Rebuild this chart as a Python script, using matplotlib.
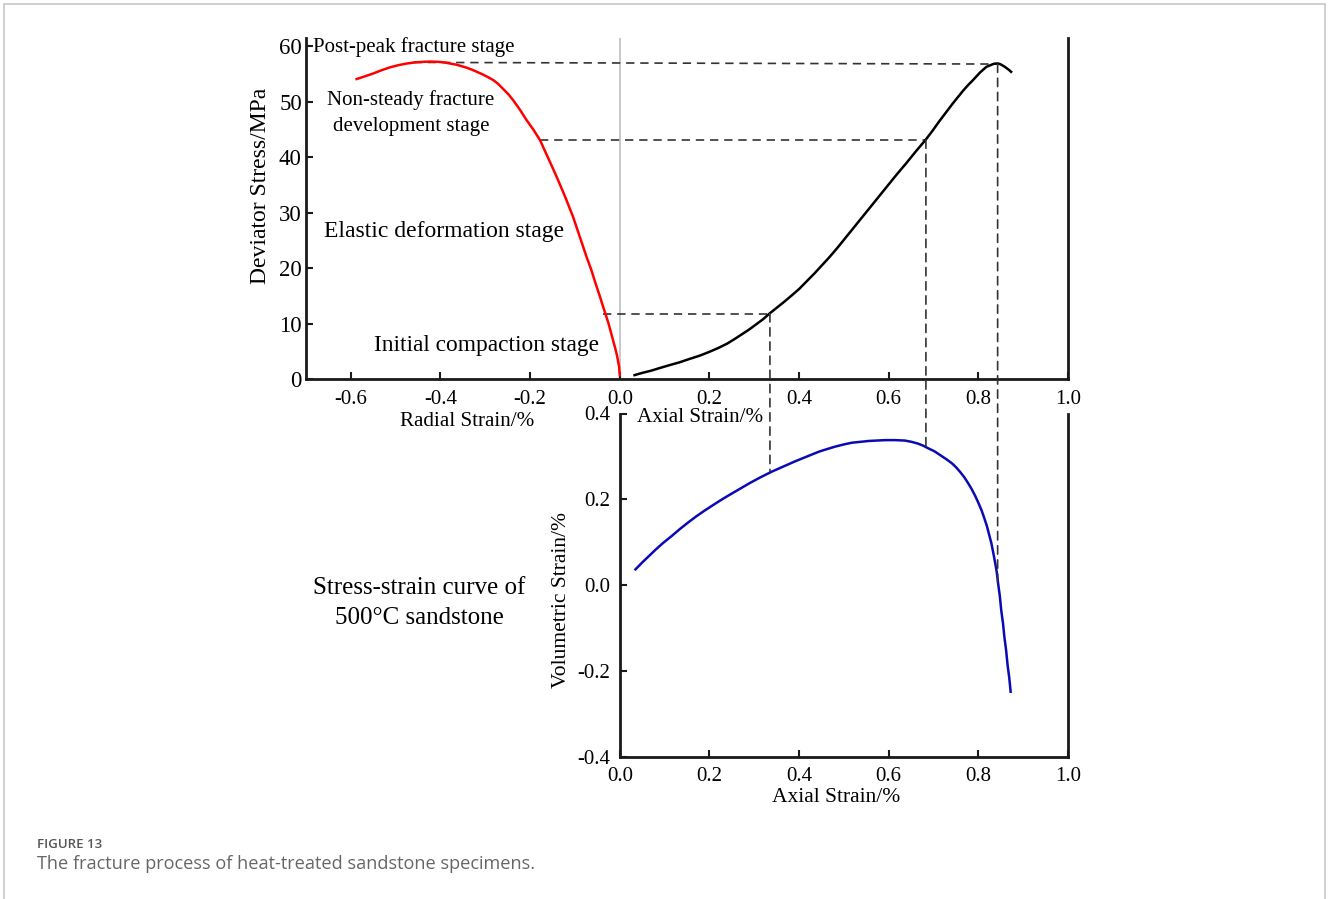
import matplotlib
matplotlib.use("Agg")
import matplotlib.pyplot as plt
from matplotlib.patches import ConnectionPatch, Rectangle

# ---------------- data ----------------
radial_strain = [-0.587, -0.568, -0.550, -0.531, -0.513, -0.494, -0.475, -0.457, -0.439, -0.422,
                 -0.405, -0.392, -0.379, -0.365, -0.352, -0.340, -0.327, -0.316, -0.305, -0.293,
                 -0.282, -0.271, -0.260, -0.249, -0.238, -0.223, -0.208, -0.193, -0.178, -0.160,
                 -0.141, -0.122, -0.104, -0.089, -0.074, -0.064, -0.055, -0.046, -0.037, -0.031,
                 -0.025, -0.020, -0.015, -0.010, -0.006, -0.0035, -0.0015, 0.0]
radial_stress = [54.1, 54.6, 55.1, 55.7, 56.2, 56.6, 56.9, 57.1, 57.2, 57.25,
                 57.2, 57.1, 56.9, 56.7, 56.4, 56.1, 55.7, 55.3, 54.9, 54.4,
                 53.9, 53.2, 52.3, 51.4, 50.3, 48.6, 46.7, 45.0, 43.1, 39.9,
                 36.5, 32.9, 29.2, 25.6, 22.0, 19.8, 17.5, 15.3, 13.0, 11.5,
                 10.0, 8.5, 7.0, 5.5, 4.2, 3.1, 2.2, 0.7]

axial_strain = [0.033, 0.050, 0.070, 0.090, 0.111, 0.133, 0.155, 0.178, 0.200, 0.220, 0.240,
                0.258, 0.275, 0.290, 0.305, 0.320, 0.334, 0.351, 0.368, 0.384, 0.401,
                0.418, 0.435, 0.451, 0.468, 0.485, 0.502, 0.518, 0.535, 0.550, 0.565,
                0.580, 0.595, 0.617, 0.639, 0.660, 0.682, 0.698, 0.713, 0.728, 0.743,
                0.755, 0.766, 0.777, 0.788, 0.796, 0.804, 0.811, 0.818, 0.824, 0.830,
                0.835, 0.840, 0.844, 0.848, 0.852, 0.855, 0.860, 0.864, 0.869, 0.873]
axial_stress = [0.7, 1.1, 1.5, 2.0, 2.5, 3.0, 3.6, 4.2, 4.9, 5.6, 6.4,
                7.3, 8.2, 9.0, 9.9, 10.8, 11.8, 12.9, 14.0, 15.1, 16.3,
                17.7, 19.1, 20.5, 22.0, 23.6, 25.3, 26.9, 28.6, 30.1, 31.6,
                33.1, 34.6, 36.8, 38.9, 41.0, 43.1, 44.8, 46.5, 48.1, 49.7,
                50.9, 52.0, 53.0, 53.9, 54.6, 55.3, 55.8, 56.3, 56.5, 56.7,
                56.85, 56.9, 56.9, 56.8, 56.65, 56.5, 56.25, 56.0, 55.7, 55.4]

vol_axial = [0.035, 0.050, 0.065, 0.080, 0.096, 0.115, 0.133, 0.151, 0.170, 0.188, 0.207,
             0.225, 0.244, 0.267, 0.290, 0.315, 0.340, 0.366, 0.392, 0.418, 0.444,
             0.462, 0.481, 0.500, 0.518, 0.537, 0.555, 0.573, 0.592, 0.614, 0.636,
             0.651, 0.665, 0.677, 0.688, 0.702, 0.715, 0.728, 0.741, 0.751, 0.760,
             0.769, 0.777, 0.785, 0.793, 0.800, 0.807, 0.813, 0.819, 0.824, 0.829,
             0.833, 0.837, 0.841, 0.844, 0.848, 0.851, 0.855, 0.858, 0.862, 0.865,
             0.869, 0.872]
vol_strain = [0.037, 0.053, 0.068, 0.083, 0.098, 0.114, 0.130, 0.145, 0.160, 0.173, 0.186,
              0.198, 0.210, 0.224, 0.238, 0.252, 0.265, 0.277, 0.289, 0.300, 0.311,
              0.317, 0.323, 0.328, 0.332, 0.334, 0.336, 0.337, 0.338, 0.338, 0.337,
              0.334, 0.330, 0.325, 0.319, 0.312, 0.303, 0.294, 0.284, 0.274, 0.263,
              0.251, 0.238, 0.224, 0.208, 0.192, 0.175, 0.157, 0.138, 0.118, 0.098,
              0.077, 0.055, 0.031, 0.005, -0.026, -0.058, -0.089, -0.120, -0.152, -0.184,
              -0.216, -0.248]

# stage boundaries (compaction end, elastic end, peak)
stage_axial = [0.335, 0.683, 0.843]
stage_stress_axial = [11.8, 43.1, 56.8]
stage_radial = [-0.037, -0.178, -0.460]
stage_stress_radial = [11.8, 43.1, 57.1]
stage_vol = [0.265, 0.320, 0.005]

top_xticks = [-0.6, -0.4, -0.2, 0.0, 0.2, 0.4, 0.6, 0.8, 1.0]
top_yticks = [0, 10, 20, 30, 40, 50, 60]
bot_xticks = [0.0, 0.2, 0.4, 0.6, 0.8, 1.0]
bot_yticks = [-0.4, -0.2, 0.0, 0.2, 0.4]

# ---------------- figure ----------------
W, H = 1328, 899
fig = plt.figure(figsize=(W / 100, H / 100), dpi=100)
serif = "Liberation Serif"
plt.rcParams["font.family"] = serif

def px_axes(l, t, r, b):
    return fig.add_axes([l / W, 1 - b / H, (r - l) / W, (b - t) / H])

def ftext(x, y, s, **kw):
    fig.text(x / W, 1 - y / H, s, **kw)

spine_col = "#1a1a1a"
dash_col = "#333333"

# top axes
ax1 = px_axes(306, 38, 1068, 379)
ax1.set_xlim(-0.7, 1.0)
ax1.set_ylim(0, 61.5)
ax1.spines["top"].set_visible(False)
for s in ["left", "bottom", "right"]:
    ax1.spines[s].set_linewidth(2.0)
    ax1.spines[s].set_color(spine_col)
ax1.set_xticks(top_xticks)
ax1.set_xticklabels([f"{v:.1f}" for v in top_xticks])
ax1.set_yticks(top_yticks)
ax1.tick_params(direction="in", length=5, width=1.5, color=spine_col,
                right=False, top=False)
ax1.tick_params(axis="x", labelsize=15, pad=8)
ax1.tick_params(axis="y", labelsize=16.5, pad=3)
ax1.axvline(0, color="#c4c4c4", lw=1.3, zorder=1)

ax1.plot(radial_strain, radial_stress, color="#ff0000", lw=1.8, zorder=3)
ax1.plot(axial_strain, axial_stress, color="black", lw=1.8, zorder=3)

for xr, sr, xa, sa in zip(stage_radial, stage_stress_radial, stage_axial, stage_stress_axial):
    ax1.plot([xr, xa], [sr, sa], color=dash_col, lw=1.2, ls=(0, (5, 3.5)), zorder=2)

# bottom axes
ax2 = px_axes(619.8, 413.5, 1068, 757)
ax2.set_xlim(0, 1.0)
ax2.set_ylim(-0.4, 0.4)
ax2.spines["top"].set_visible(False)
for s in ["left", "bottom", "right"]:
    ax2.spines[s].set_linewidth(2.0)
    ax2.spines[s].set_color(spine_col)
ax2.set_xticks(bot_xticks)
ax2.set_xticklabels([f"{v:.1f}" for v in bot_xticks])
ax2.set_yticks(bot_yticks)
ax2.set_yticklabels([f"{v:.1f}" for v in bot_yticks])
ax2.tick_params(direction="in", length=5, width=1.5, color=spine_col,
                labelsize=15, right=False, top=False)
ax2.tick_params(axis="x", pad=7)
ax2.tick_params(axis="y", pad=7)
ax2.plot(vol_axial, vol_strain, color="#0a0ab4", lw=1.8, zorder=3)

# vertical dashed links between the two axes
for xa, sa, v in zip(stage_axial, stage_stress_axial, stage_vol):
    con = ConnectionPatch(xyA=(xa, sa), coordsA=ax1.transData,
                          xyB=(xa, v), coordsB=ax2.transData,
                          color=dash_col, lw=1.2, ls=(0, (5, 3.5)), zorder=2)
    fig.add_artist(con)

# axis labels and annotations (figure pixel coordinates)
ftext(261, 186, "Deviator Stress/MPa", fontsize=17, rotation=90, ha="center", va="center")
ftext(561, 600, "Volumetric Strain/%", fontsize=15.5, rotation=90, ha="center", va="center")
ftext(836, 797, "Axial Strain/%", fontsize=15.5, ha="center", va="center")
ftext(467, 421, "Radial Strain/%", fontsize=15.2, ha="center", va="center")
ftext(700, 418, "Axial Strain/%", fontsize=15.2, ha="center", va="center")

ftext(313, 47, "Post-peak fracture stage", fontsize=15, ha="left", va="center")
ftext(411, 113, "Non-steady fracture\ndevelopment stage", fontsize=15, ha="center",
      va="center", linespacing=1.45)
ftext(444, 232, "Elastic deformation stage", fontsize=17, ha="center", va="center")
ftext(487, 345, "Initial compaction stage", fontsize=16.8, ha="center", va="center")
ftext(419, 603, "Stress-strain curve of\n500\u00b0C sandstone", fontsize=18, ha="center",
      va="center", linespacing=1.45)

# caption
ftext(37, 844, "FIGURE 13", fontsize=9.5, ha="left", va="center", color="#555555",
      family="Open Sans", fontweight="semibold")
ftext(37, 864, "The fracture process of heat-treated sandstone specimens.", fontsize=13.1,
      ha="left", va="center", color="#666666", family="Open Sans")

# page frame
fig.add_artist(Rectangle((4 / W, -0.05), (W - 7) / W, 1 - 4 / H + 0.05,
                         transform=fig.transFigure, fill=False,
                         edgecolor="#c8c8c8", lw=1.2))

fig.savefig("out.png", dpi=100)
